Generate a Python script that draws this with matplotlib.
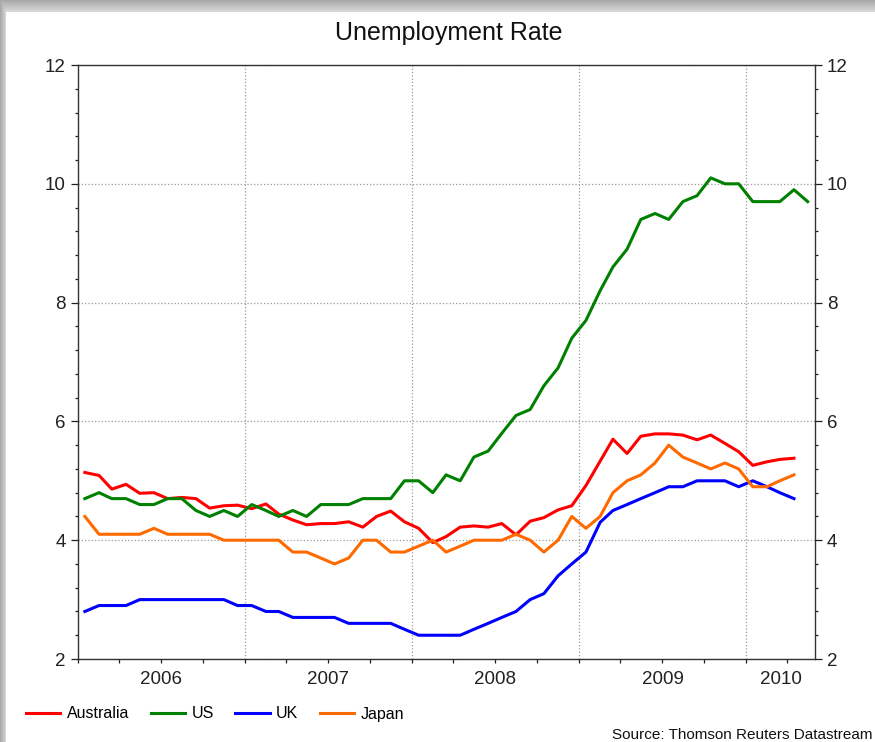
"""Unemployment rate, Australia / US / UK / Japan, monthly 2006-2010."""

import numpy as np
import pandas as pd
import matplotlib
matplotlib.use("Agg")
import matplotlib.pyplot as plt
import matplotlib.dates as mdates
from matplotlib import font_manager
from matplotlib.ticker import MultipleLocator, FixedLocator, NullFormatter

# monthly observations, starting Jan 2006
months = pd.date_range("2006-01-01", "2010-05-01", freq="MS")

australia = [5.14, 5.09, 4.86, 4.94, 4.79, 4.80, 4.70, 4.72, 4.70, 4.54, 4.58, 4.59,
             4.53, 4.61, 4.44, 4.34, 4.26, 4.28, 4.28, 4.31, 4.22, 4.40, 4.49, 4.31,
             4.20, 3.96, 4.06, 4.22, 4.24, 4.22, 4.28, 4.09, 4.32, 4.38, 4.51, 4.58,
             4.92, 5.33, 5.70, 5.46, 5.75, 5.79, 5.79, 5.77, 5.69, 5.77, 5.63, 5.49,
             5.26, 5.32, 5.36, 5.38]
us = [4.7, 4.8, 4.7, 4.7, 4.6, 4.6, 4.7, 4.7, 4.5, 4.4, 4.5, 4.4,
      4.6, 4.5, 4.4, 4.5, 4.4, 4.6, 4.6, 4.6, 4.7, 4.7, 4.7, 5.0,
      5.0, 4.8, 5.1, 5.0, 5.4, 5.5, 5.8, 6.1, 6.2, 6.6, 6.9, 7.4,
      7.7, 8.2, 8.6, 8.9, 9.4, 9.5, 9.4, 9.7, 9.8, 10.1, 10.0, 10.0,
      9.7, 9.7, 9.7, 9.9, 9.7]
uk = [2.8, 2.9, 2.9, 2.9, 3.0, 3.0, 3.0, 3.0, 3.0, 3.0, 3.0, 2.9,
      2.9, 2.8, 2.8, 2.7, 2.7, 2.7, 2.7, 2.6, 2.6, 2.6, 2.6, 2.5,
      2.4, 2.4, 2.4, 2.4, 2.5, 2.6, 2.7, 2.8, 3.0, 3.1, 3.4, 3.6,
      3.8, 4.3, 4.5, 4.6, 4.7, 4.8, 4.9, 4.9, 5.0, 5.0, 5.0, 4.9,
      5.0, 4.9, 4.8, 4.7]
japan = [4.4, 4.1, 4.1, 4.1, 4.1, 4.2, 4.1, 4.1, 4.1, 4.1, 4.0, 4.0,
         4.0, 4.0, 4.0, 3.8, 3.8, 3.7, 3.6, 3.7, 4.0, 4.0, 3.8, 3.8,
         3.9, 4.0, 3.8, 3.9, 4.0, 4.0, 4.0, 4.1, 4.0, 3.8, 4.0, 4.4,
         4.2, 4.4, 4.8, 5.0, 5.1, 5.3, 5.6, 5.4, 5.3, 5.2, 5.3, 5.2,
         4.9, 4.9, 5.0, 5.1]

series_names = ["Australia", "US", "UK", "Japan"]
series_values = [australia, us, uk, japan]
series_colors = ["#ff0000", "#008000", "#0000ff", "#ff6a00"]

W, H, DPI = 875, 742, 100

plt.rcParams["font.family"] = ["Liberation Sans", "DejaVu Sans"]
installed = {f.name for f in font_manager.fontManager.ttflist}
has_narrow = "Liberation Sans Narrow" in installed
narrow = ["Liberation Sans Narrow", "Liberation Sans"] if has_narrow else ["Liberation Sans"]
legend_size = 13 if has_narrow else 11.5
source_size = 13 if has_narrow else 11

fig = plt.figure(figsize=(W / DPI, H / DPI), dpi=DPI)
fig.patch.set_facecolor("white")

# soft grey shadow along the top and left edges of the panel
bg = fig.add_axes([0, 0, 1, 1], zorder=-10)
yy, xx = np.mgrid[0:H, 0:W]
t = np.clip(np.maximum((12 - yy) / 12.0, (6 - xx) / 6.0), 0, 1)
shade = np.where(t > 0, 0.86 - 0.2 * t, 1.0)
bg.imshow(shade, cmap="gray", vmin=0, vmax=1, extent=[0, 1, 0, 1], aspect="auto")
bg.axis("off")

ax = fig.add_axes([78 / W, 1 - 659 / H, (815 - 78) / W, (659 - 65) / H])

mid = pd.Timedelta(days=15)
for name, vals, col in zip(series_names, series_values, series_colors):
    ax.plot(months[:len(vals)] + mid, vals, color=col, lw=2.2, label=name, zorder=3)

x0, x1 = pd.Timestamp("2006-01-01"), pd.Timestamp("2010-06-01")
ax.set_xlim(x0, x1)
ax.set_ylim(2, 12)

# y axis: labels on both sides, outward ticks
ax.set_yticks(np.arange(2, 13, 2))
ax.yaxis.set_minor_locator(MultipleLocator(0.4))
ax.tick_params(axis="y", which="both", direction="out", left=True, right=True,
               labelleft=True, labelright=True, labelsize=13.5, pad=4,
               colors="#222222")
ax.tick_params(axis="y", which="major", length=4.7, width=0.9)
ax.tick_params(axis="y", which="minor", length=2.5, width=0.9)
ax.yaxis.grid(True, ls=":", color="#999999", lw=0.9, zorder=0)

# x axis: quarterly tick marks, year labels centred on visible part of each year
years = sorted(set(months.year))
label_pos = []
for yr in years:
    a = max(pd.Timestamp(f"{yr}-01-01"), x0)
    b = min(pd.Timestamp(f"{yr + 1}-01-01"), x1)
    label_pos.append(mdates.date2num(a) + (mdates.date2num(b) - mdates.date2num(a)) / 2)
ax.xaxis.set_major_locator(FixedLocator(label_pos))
ax.set_xticklabels([str(y) for y in years])
ax.xaxis.set_minor_locator(mdates.MonthLocator(bymonth=[1, 4, 7, 10]))
ax.xaxis.set_minor_formatter(NullFormatter())
ax.xaxis.remove_overlapping_locs = False
ax.tick_params(axis="x", which="major", length=0, pad=9, labelsize=13.5, colors="#222222")
ax.tick_params(axis="x", which="minor", direction="out", length=3, width=0.9, color="#222222")
for yr in years[1:]:
    ax.axvline(pd.Timestamp(f"{yr}-01-01"), ls=":", color="#999999", lw=0.9, zorder=0)

for sp in ax.spines.values():
    sp.set_color("#333333")
    sp.set_linewidth(1.0)

fig.text(449 / W, 1 - 33 / H, "Unemployment Rate", ha="center", va="center",
         fontsize=18, color="#111111")

fig.legend(loc="center left", bbox_to_anchor=(26 / W, 1 - 714 / H), ncol=4,
           frameon=False, handlelength=2.15, handletextpad=0.4, columnspacing=1.35,
           borderpad=0, borderaxespad=0,
           prop={"family": narrow, "size": legend_size})

fig.text(612 / W, 1 - 735 / H, "Source: Thomson Reuters Datastream", ha="left",
         va="center", fontsize=source_size, family=narrow, color="#111111")

fig.savefig("out.png", dpi=DPI)
